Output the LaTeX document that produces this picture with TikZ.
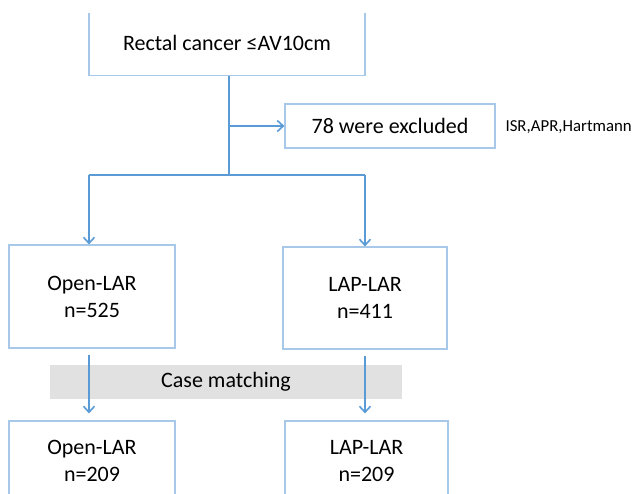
\documentclass[tikz,border=0pt]{standalone}
\usepackage{fontspec}
\setmainfont{Carlito}
\usetikzlibrary{arrows.meta,positioning}
\definecolor{lineblue}{HTML}{5B9BD5}
\definecolor{boxblue}{HTML}{A8C8EA}
\definecolor{bargray}{HTML}{E1E1E1}
\tikzset{
  flowbox/.style={draw=boxblue,line width=1.1pt,fill=white,align=center,inner sep=0pt,
    font=\fontsize{22}{27}\selectfont},
  flowline/.style={draw=lineblue,line width=1.6pt},
  flowarrow/.style={flowline,-{Straight Barb[length=6pt,width=11pt]}}
}

\begin{document}
\begin{tikzpicture}[x=1pt,y=-1pt]
\useasboundingbox (0,0) rectangle (641,494);
\clip (0,14) rectangle (641,494);
% boxes
\node[flowbox,minimum width=276,minimum height=65] (top) at (227,43) {Rectal cancer ≤AV10cm};
\node[flowbox,minimum width=210,minimum height=44] (excl) at (390,126) {78 were excluded};
\node[anchor=west,font=\fontsize{16.8}{20}\selectfont] (why) at (502,127) {ISR,APR,Hartmann};
\node[flowbox,minimum width=166,minimum height=103] (openA) at (92,296.5) {Open-LAR\\n=525};
\node[flowbox,minimum width=164,minimum height=102] (lapA) at (365,298) {LAP-LAR\\n=411};
\node[fill=bargray,minimum width=352,minimum height=34,inner sep=0pt,
  font=\fontsize{22}{27}\selectfont] (match) at (226,382) {Case matching};
\node[flowbox,minimum width=166,minimum height=80] (openB) at (92,461) {Open-LAR\\n=209};
\node[flowbox,minimum width=163,minimum height=80] (lapB) at (366.5,461) {LAP-LAR\\n=209};
% connectors
\coordinate (split) at (229,175);
\draw[flowline] (top.south -| split) -- (split);
\draw[flowarrow] (excl.west -| split) -- (excl.west);
\draw[flowline] ([xshift=-3pt]split -| openA.north) -- (split -| lapA.north);
\draw[flowarrow] ([xshift=-3pt]split -| openA.north) -- ([xshift=-3pt]openA.north);
\draw[flowarrow] (split -| lapA.north) -- (lapA.north);
\draw[flowarrow,shorten <=6pt,shorten >=7pt] ([xshift=-3pt]openA.south) -- ([xshift=-3pt]openB.north);
\draw[flowarrow,shorten <=6pt,shorten >=7pt] (lapA.south) -- (lapA.south |- openB.north);
\end{tikzpicture}
\end{document}
